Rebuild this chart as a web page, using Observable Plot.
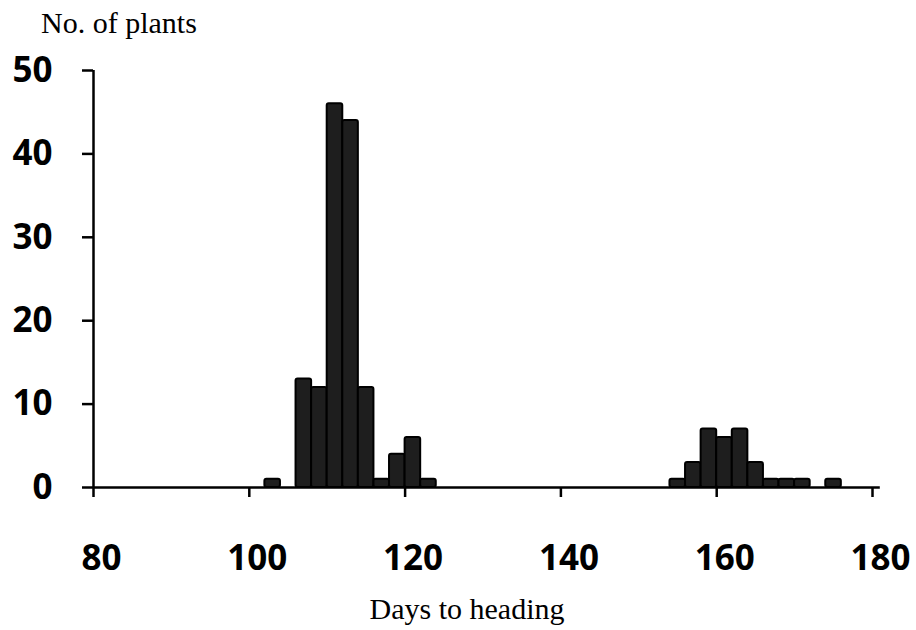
<!DOCTYPE html>
<html>
<head>
<meta charset="utf-8">
<script src="https://cdn.jsdelivr.net/npm/d3@7"></script>
<script src="https://cdn.jsdelivr.net/npm/@observablehq/plot@0.6"></script>
<style>
  html, body { margin: 0; padding: 0; background: #fff; }
  #wrap { position: relative; width: 916px; height: 630px; }
  .lbl { position: absolute; font-family: "Liberation Serif", "Times New Roman", serif; font-size: 30px; line-height: 1; color: #000; white-space: nowrap; }
  #ylab { left: 41px; top: 8px; }
  #xlab { left: 0; width: 934px; text-align: center; top: 594px; }
</style>
</head>
<body>
<div id="wrap">
  <div id="chart"></div>
  <div class="lbl" id="ylab">No. of plants</div>
  <div class="lbl" id="xlab">Days to heading</div>
</div>
<script>
// Bin start (days to heading), each bin 2 days wide
const binStart = [102, 106, 108, 110, 112, 114, 116, 118, 120, 122, 154, 156, 158, 160, 162, 164, 166, 168, 170, 174];
const counts   = [1,   13,  12,  46,  44,  12,  1,   4,   6,   1,   1,   3,   7,   6,   7,   3,   1,   1,   1,   1];
const binWidth = 2;
const xTicks = [80, 100, 120, 140, 160, 180];
const yTicks = [0, 10, 20, 30, 40, 50];

const data = binStart.map((s, i) => ({x1: s, x2: s + binWidth, y: counts[i]}));

const chart = Plot.plot({
  width: 916,
  height: 630,
  marginLeft: 93,
  marginRight: 44,
  marginTop: 70,
  marginBottom: 143,
  style: {fontFamily: "'Open Sans', sans-serif", background: "transparent"},
  x: {domain: [80, 180], ticks: xTicks},
  y: {domain: [0, 50], ticks: yTicks},
  marks: [
    Plot.rectY(data, {x1: "x1", x2: "x2", y: "y", fill: "#1e1e1e", stroke: "#000", strokeWidth: 2, rx: 2}),
    Plot.ruleY([0], {x1: 80, x2: 181, stroke: "#000", strokeWidth: 2.5}),
    Plot.ruleX([80], {y1: 0, y2: 50, stroke: "#000", strokeWidth: 2.5}),
    Plot.axisX({ticks: xTicks, tickSize: 10, label: null, stroke: "#000", strokeWidth: 2.5, tickFormat: () => ""}),
    Plot.axisX({ticks: xTicks, tickSize: 0, tickPadding: 58, label: null, fontSize: 35, fontWeight: "bold", dx: 8, tickFormat: d => String(d)}),
    Plot.axisY({ticks: yTicks, tickSize: 11, tickPadding: 30, label: null, fontSize: 35, fontWeight: "bold", stroke: "#000", strokeWidth: 2.5, tickFormat: d => String(d)})
  ]
});
document.getElementById("chart").appendChild(chart);
</script>
</body>
</html>
